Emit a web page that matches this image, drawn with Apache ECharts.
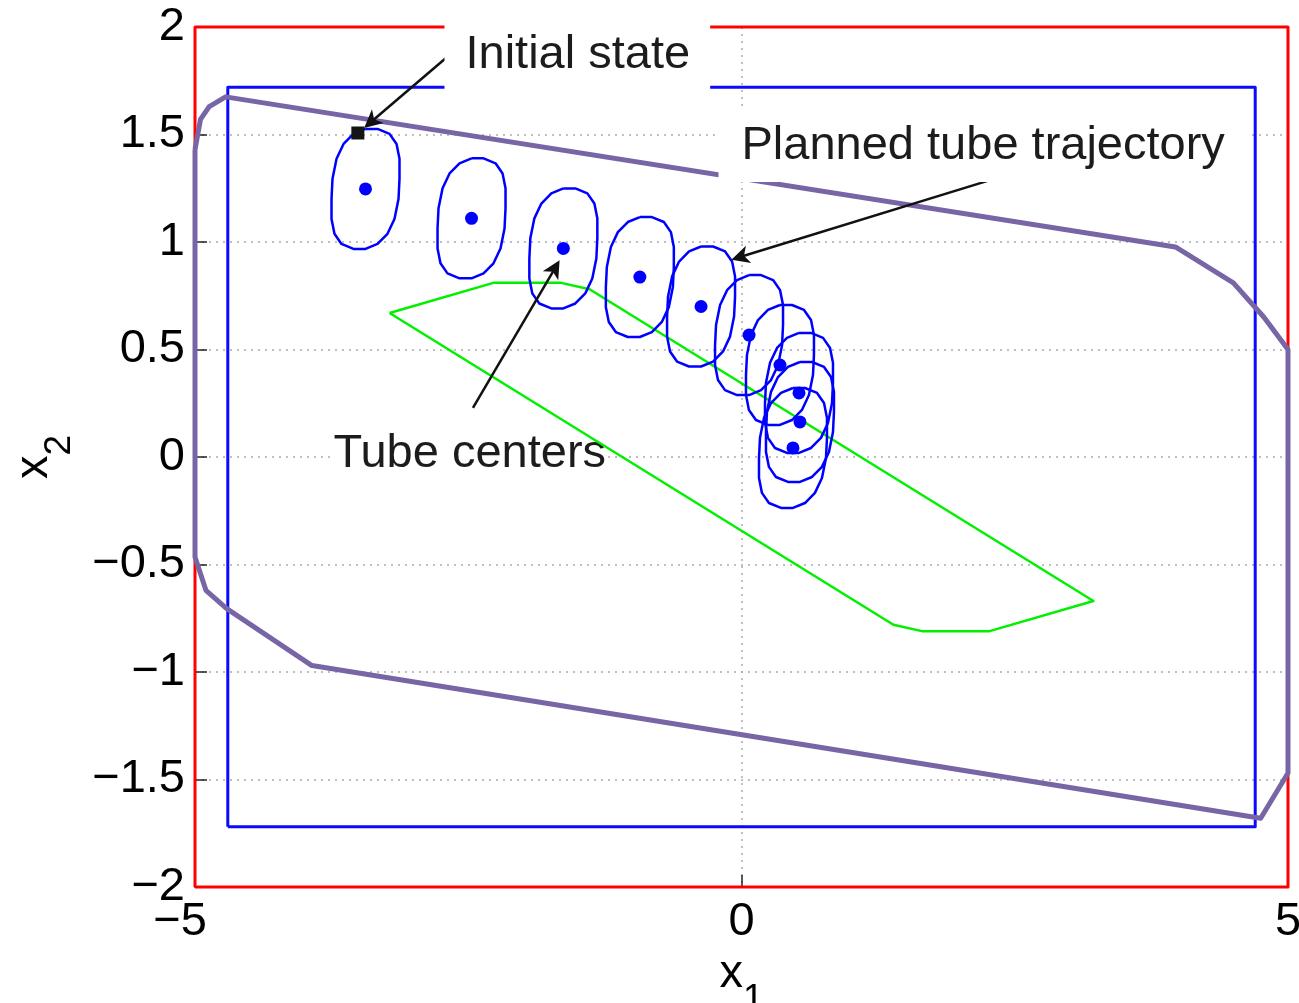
<!DOCTYPE html>
<html><head><meta charset="utf-8">
<script src="https://cdn.jsdelivr.net/npm/echarts@6/dist/echarts.min.js"></script>
<style>html,body{margin:0;padding:0;background:#fff;}#c{width:1299px;height:1003px;}</style>
</head><body><div id="c"></div>
<script>
// ---- data ----
const xTicks = [-5, 0, 5];
const yTicks = [-2, -1.5, -1, -0.5, 0, 0.5, 1, 1.5, 2];
const stateBox = [[-5,-2],[5,-2],[5,2],[-5,2],[-5,-2]];
const tightBox = [[-4.7,-1.72],[4.7,-1.72],[4.7,1.72],[-4.7,1.72],[-4.7,-1.72]];
const outerSet = [[-5,1.43],[-4.95,1.57],[-4.87,1.63],[-4.72,1.675],[3.97,0.977],[4.5,0.81],[4.78,0.65],[5,0.5],[5,-1.47],[4.75,-1.68],[-3.93,-0.97],[-4.71,-0.705],[-4.9,-0.62],[-5,-0.465],[-5,1.43]];
const terminalSet = [[-3.22,0.67],[-2.27,0.81],[-1.65,0.81],[-1.39,0.78],[3.22,-0.67],[2.27,-0.81],[1.65,-0.81],[1.39,-0.78],[-3.22,0.67]];
const tubeCenters = [[-3.44,1.247],[-2.47,1.11],[-1.63,0.97],[-0.93,0.837],[-0.37,0.70],[0.069,0.567],[0.352,0.428],[0.526,0.298],[0.535,0.163],[0.471,0.042]];
const tubeShape = [[0,0.279],[0.11,0.279],[0.22,0.256],[0.284,0.209],[0.311,0.14],[0.311,0.047],[0.302,-0.047],[0.265,-0.14],[0.201,-0.209],[0.11,-0.256],[0,-0.279],[-0.11,-0.279],[-0.22,-0.256],[-0.284,-0.209],[-0.311,-0.14],[-0.311,-0.047],[-0.302,0.047],[-0.265,0.14],[-0.201,0.209],[-0.11,0.256],[0,0.279]];
const initialState = [[-3.51, 1.507]];
const labelTexts = ['Initial state', 'Planned tube trajectory', 'Tube centers'];
const labelAnchors = [[-2.722,1.870],[-0.215,1.447],[-3.756,0.012]];
const arrowTails = [[-2.704,1.856],[2.274,1.288],[-2.457,0.228]];
const arrowTips = [[-3.39,1.558],[-0.014,0.930],[-1.706,0.879]];

// ---- chart ----
const FONT = "'Liberation Sans', Arial, Helvetica, sans-serif";
const minus = v => String(v).replace('-', '\u2212');
const labelPads = [[16,20,22,21],[12,26,13,23],[2,2,2,2]];
const labelZ = [10, 10, 1];

function polyLine(data, color, width, z) {
  return {type:'line', data: data, showSymbol:false, symbol:'none', clip:false, silent:true, z: z,
    lineStyle:{color: color, width: width, join:'round', opacity:1}, animation:false};
}

const series = [];
series.push(polyLine(stateBox, '#ff0000', 3, 2));
series.push(polyLine(tightBox, '#0a0aff', 3, 2));
series.push(polyLine(outerSet, '#7865a5', 5, 2));
series.push(polyLine(terminalSet, '#00f000', 2.5, 2));
tubeCenters.forEach(c => {
  series.push(polyLine(tubeShape.map(o => [c[0] + o[0], c[1] + o[1]]), '#0000ff', 2.5, 3));
});
series.push({type:'scatter', data: tubeCenters, symbol:'circle', symbolSize:13, z:4, silent:true,
  itemStyle:{color:'#0000ff', opacity:1}, animation:false});
series.push({type:'scatter', data: initialState, symbol:'rect', symbolSize:13, z:4, silent:true,
  itemStyle:{color:'#151515', opacity:1}, animation:false});
series.push({type:'lines', coordinateSystem:'cartesian2d', z:5, silent:true, animation:false,
  symbol:['none','path://M5,0 L10,15 L5,11 L0,15 Z'], symbolSize:18,
  lineStyle:{color:'#111', width:2.5, opacity:1},
  data: arrowTails.map((t,i) => ({coords:[t, arrowTips[i]]}))});
labelTexts.forEach((t, i) => {
  series.push({type:'scatter', z:labelZ[i], silent:true, animation:false, symbolSize:1,
    itemStyle:{color:'rgba(0,0,0,0)', opacity:1},
    data: [{name:t, value: labelAnchors[i]}],
    label:{show:true, position:'right', distance:0, formatter:'{b}', backgroundColor:'#ffffff', opacity:1,
      padding: labelPads[i], color:'#1c1c1c', fontSize:47, fontFamily:FONT}});
});

const nameRich = {a:{fontSize:47, lineHeight:47, color:'#000', fontFamily:FONT, verticalAlign:'bottom', padding:[0,0,20,0]},
                  b:{fontSize:37, lineHeight:37, color:'#000', fontFamily:FONT, verticalAlign:'bottom'}};
const option = {
  backgroundColor:'#ffffff',
  animation:false,
  grid:{left:195, right:11, top:27, bottom:116, containLabel:false, outerBoundsMode:'none'},
  xAxis:{type:'value', min:xTicks[0], max:xTicks[xTicks.length-1], interval:xTicks[1]-xTicks[0],
    axisLine:{show:true, onZero:false, lineStyle:{color:'#222', width:1.5}},
    axisTick:{show:true, inside:true, length:12, lineStyle:{color:'#222', width:1.5}},
    axisLabel:{margin:12, fontSize:47, color:'#000', fontFamily:FONT,
      formatter: v => v < 0 ? '{s|' + minus(v) + '}' : minus(v),
      rich:{s:{fontSize:47, color:'#000', fontFamily:FONT, padding:[0,30,0,0]}}},
    splitLine:{show:true, lineStyle:{color:'#aaaaaa', width:1.5, type:[2,5]}},
    name:'{a|x}{b|1}', nameLocation:'middle', nameGap:32,
    nameTextStyle:{rich:nameRich}},
  yAxis:{type:'value', min:yTicks[0], max:yTicks[yTicks.length-1], interval:yTicks[1]-yTicks[0],
    axisLine:{show:true, onZero:false, lineStyle:{color:'#222', width:1.5}},
    axisTick:{show:true, inside:true, length:12, lineStyle:{color:'#222', width:1.5}},
    axisLabel:{margin:10, fontSize:47, color:'#000', fontFamily:FONT, formatter: v => minus(v)},
    splitLine:{show:true, lineStyle:{color:'#aaaaaa', width:1.5, type:[2,5]}},
    name:'{a|x}{b|2}', nameLocation:'middle', nameGap:117, nameRotate:90,
    nameTextStyle:{rich:nameRich}},
  series: series
};
const chart = echarts.init(document.getElementById('c'), null, {renderer:'canvas'});
chart.setOption(option);
</script></body></html>
